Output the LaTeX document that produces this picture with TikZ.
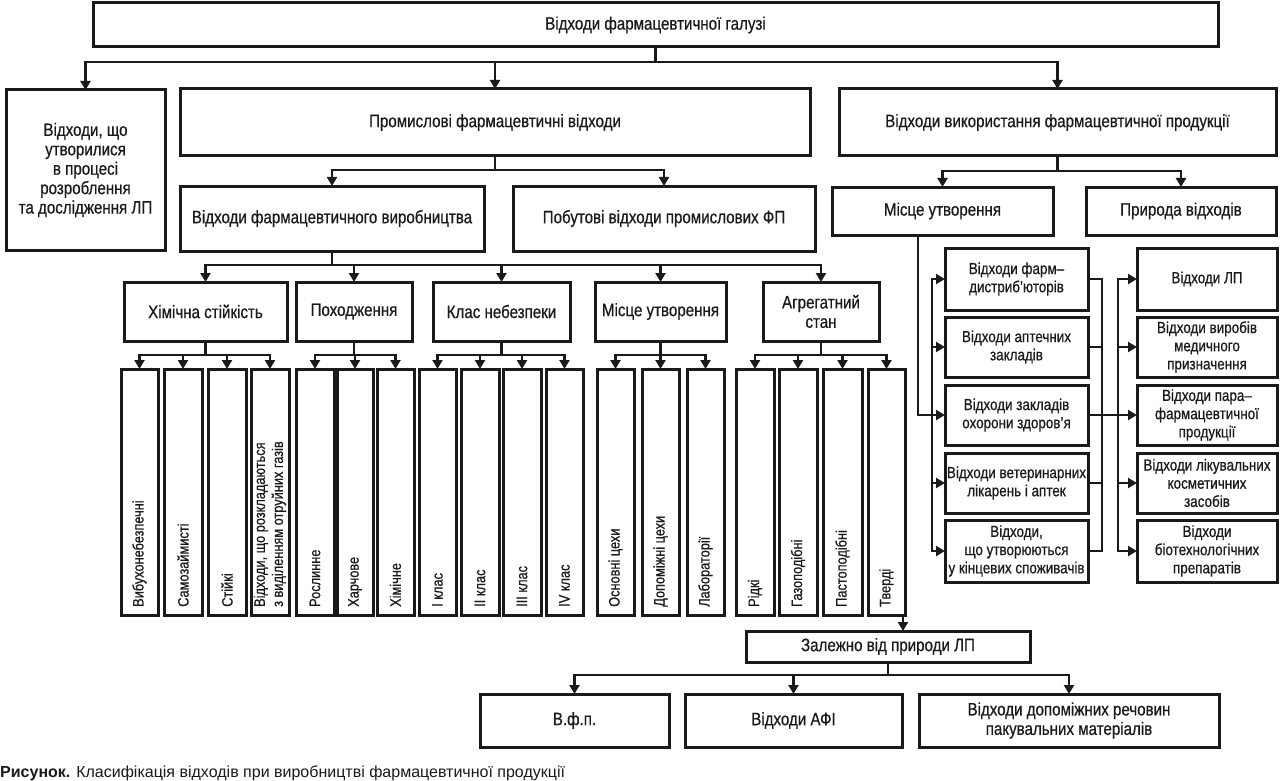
\documentclass[tikz,border=0pt]{standalone}
\usepackage{fontspec}
\setmainfont[FakeStretch=0.84,FakeBold=0.6]{Liberation Sans}
\newfontfamily\capfont{Liberation Sans}
\usetikzlibrary{arrows.meta,calc}
\definecolor{ink}{HTML}{1A1A1A}
\newcommand\fbig{\fontsize{18}{19.4}\selectfont}
\newcommand\fsmall{\fontsize{16}{18.2}\selectfont}
\newcommand\fvert{\fontsize{15.2}{18}\selectfont}
\newcommand\mkbox[7][box]{\node[#1,minimum width={#5-#3},minimum height={#6-#4}] (#2) at ({(#3+#5)/2},{(#4+#6)/2}) {#7};}
\newcommand\vertbox[4]{\mkbox{#1}{#2}{369}{#3}{615}{}\node[vtext] (#1t) at ({(#2+#3)/2},607) {#4};}
\newcommand\mktree[3]{\draw[conn] (#1.south) -- ++(0,#2) coordinate (#1b); \foreach \t in {#3} {\draw[arr] (#1b) -| (\t.north);}}
\begin{document}
\begin{tikzpicture}[x=1pt,y=-1pt,
  box/.style={draw=ink,line width=3pt,inner sep=1pt,outer sep=0pt,align=center,text=ink,font=\fbig},
  sbox/.style={box,font=\fsmall},
  conn/.style={draw=ink,line width=2.4pt,line cap=rect},
  arr/.style={draw=ink,line width=2.4pt,-{Triangle[length=9pt,width=10pt]}},
  vtext/.style={rotate=90,anchor=west,inner sep=0pt,align=left,text=ink,font=\fvert}
]
\useasboundingbox (0,0) rectangle (1280,781);
\fill[white] (0,0) rectangle (1280,781);

% level 1-2
\mkbox{top}{93}{3}{1218}{47}{Відходи фармацевтичної галузі}
\mkbox{lp}{6}{90}{165}{250}{Відходи, що\\утворилися\\в процесі\\розроблення\\та дослідження ЛП}
\mkbox{prom}{180}{89}{810}{156}{Промислові фармацевтичні відходи}
\mkbox{vyk}{839}{89}{1276}{156}{Відходи використання фармацевтичної продукції}

% level 3
\mkbox{vyr}{180}{186}{484}{251}{Відходи фармацевтичного виробництва}
\mkbox{pob}{513}{186}{815}{251}{Побутові відходи промислових ФП}
\mkbox{misce}{832}{187}{1053}{235}{Місце утворення}
\mkbox{pryr}{1086}{187}{1276}{235}{Природа відходів}

% level 4
\mkbox{chem}{124}{282}{287}{341}{Хімічна стійкість}
\mkbox{pokh}{296}{282}{412}{341}{Походження}
\mkbox{klas}{433}{282}{570}{341}{Клас небезпеки}
\mkbox{mis2}{595}{282}{726}{341}{Місце утворення}
\mkbox{agr}{763}{282}{879}{341}{Агрегатний\\стан}

% vertical boxes
\vertbox{v1}{121}{158}{Вибухонебезпечні}
\vertbox{v2}{164}{202}{Самозаймисті}
\vertbox{v3}{208}{246}{Стійкі}
\vertbox{v4}{251}{289}{Відходи, що розкладаються\\з виділенням отруйних газів}
\vertbox{v5}{296}{334}{Рослинне}
\vertbox{v6}{337}{373}{Харчове}
\vertbox{v7}{377}{414}{Хімічне}
\vertbox{v8}{419}{456}{I клас}
\vertbox{v9}{461}{499}{II клас}
\vertbox{v10}{503}{541}{III клас}
\vertbox{v11}{546}{583}{IV клас}
\vertbox{v12}{597}{634}{Основні цехи}
\vertbox{v13}{642}{679}{Допоміжні цехи}
\vertbox{v14}{687}{724}{Лабораторії}
\vertbox{v15}{736}{774}{Рідкі}
\vertbox{v16}{779}{817}{Газоподібні}
\vertbox{v17}{823}{862}{Пастоподібні}
\vertbox{v18}{868}{905}{Тверді}

% bottom
\mkbox{zal}{746}{631}{1030}{662}{Залежно від природи ЛП}
\mkbox{vfp}{480}{694}{669}{747}{В.ф.п.}
\mkbox{afi}{685}{694}{902}{747}{Відходи АФІ}
\mkbox{dop}{919}{694}{1219}{747}{Відходи допоміжних речовин\\пакувальних матеріалів}

% right columns
\mkbox[sbox]{m1}{945}{248}{1088}{310}{Відходи фарм–\\дистриб’юторів}
\mkbox[sbox]{m2}{945}{317}{1088}{377}{Відходи аптечних\\закладів}
\mkbox[sbox]{m3}{945}{385}{1088}{445}{Відходи закладів\\охорони здоров’я}
\mkbox[sbox]{m4}{945}{453}{1088}{513}{Відходи ветеринарних\\лікарень і аптек}
\mkbox[sbox]{m5}{945}{520}{1088}{582}{Відходи,\\що утворюються\\у кінцевих споживачів}
\mkbox[sbox]{r1}{1137}{248}{1277}{310}{Відходи ЛП}
\mkbox[sbox]{r2}{1137}{317}{1277}{377}{Відходи виробів\\медичного\\призначення}
\mkbox[sbox]{r3}{1137}{385}{1277}{445}{Відходи пара–\\фармацевтичної\\продукції}
\mkbox[sbox]{r4}{1137}{453}{1277}{513}{Відходи лікувальних\\косметичних\\засобів}
\mkbox[sbox]{r5}{1137}{520}{1277}{582}{Відходи\\біотехнологічних\\препаратів}

% trees
\mktree{top}{15}{lp,prom,vyk}
\mktree{prom}{14}{vyr,pob}
\mktree{vyk}{15}{misce,pryr}
\mktree{vyr}{14}{chem,pokh,klas,mis2,agr}
\mktree{chem}{14}{v1,v2,v3,v4}
\mktree{pokh}{14}{v5,v6,v7}
\mktree{klas}{14}{v8,v9,v10,v11}
\mktree{mis2}{14}{v12,v13,v14}
\mktree{agr}{14}{v15,v16,v17,v18}
\mktree{zal}{13}{vfp,afi,dop}
\draw[arr] ([xshift=-2pt]v18.south east) -- ([xshift=-2pt]v18.south east |- zal.north);

% right side connections
\coordinate (lb) at (932,0);
\coordinate (rb1) at (1102,0);
\coordinate (rb2) at (1118,0);
\draw[conn] ([xshift=86pt]misce.south west) |- (lb |- m3.west);
\draw[conn] (lb |- m1.west) -- (lb |- m5.west);
\foreach \i in {1,...,5} {\draw[arr] (lb |- m\i.west) -- (m\i.west);}
\foreach \i in {1,...,5} {\draw[conn] (m\i.east) -- (rb1 |- m\i.east);}
\draw[conn] (rb1 |- m1.east) -- (rb1 |- m5.east);
\draw[conn] (rb1 |- m3.east) -- (rb2 |- m3.east);
\draw[conn] (rb2 |- r1.west) -- (rb2 |- r5.west);
\foreach \i in {1,...,5} {\draw[arr] (rb2 |- r\i.west) -- (r\i.west);}

% caption
\node[anchor=base west,inner sep=0pt,text=ink,font=\capfont\fontsize{16}{18}\selectfont] (cap) at (0,777) {\textbf{Рисунок.} Класифікація відходів при виробництві фармацевтичної продукції};
\end{tikzpicture}
\end{document}
